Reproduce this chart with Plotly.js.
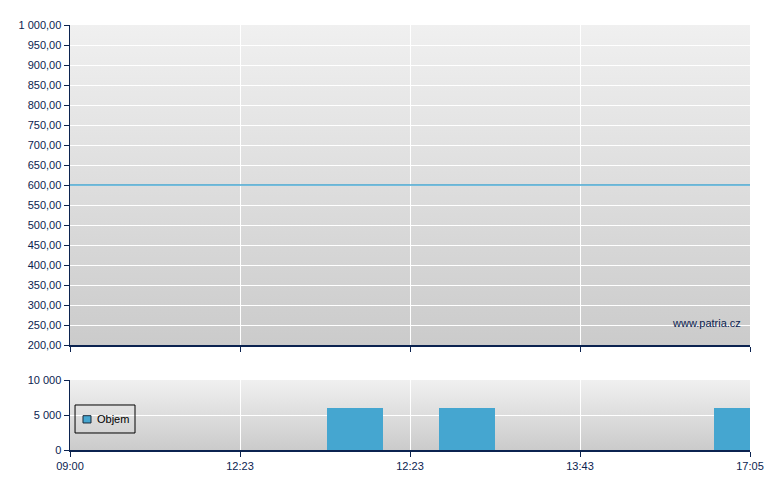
<!DOCTYPE html>
<html>
<head>
<meta charset="utf-8">
<script src="https://cdn.plot.ly/plotly-3.0.1.min.js"></script>
<style>html,body{margin:0;padding:0;background:#fff;}#chart{width:780px;height:490px;}</style>
</head>
<body>
<div id="chart"></div>
<script>
// Tick positions / labels (trade-index axis)
const tickPositions = [0, 1, 2, 3, 4];
const tickLabels = ["09:00", "12:23", "12:23", "13:43", "17:05"];
// Price series
const priceX = [0, 1, 2, 3, 4];
const priceY = [600, 600, 600, 600, 600];
// Volume series
const seriesName = "Objem";
const volumeX = [1.676, 2.335, 3.953];
const volumeY = [6000, 6000, 6000];
const barWidth = 0.329;

const navy = "#0b2350";
const blue = "#45a6d0";
const gradSvg = '<svg xmlns="http://www.w3.org/2000/svg" width="10" height="100" preserveAspectRatio="none"><defs><linearGradient id="g" x1="0" y1="0" x2="0" y2="1"><stop offset="0" stop-color="#f0f0f0"/><stop offset="1" stop-color="#cbcbcb"/></linearGradient></defs><rect width="10" height="100" fill="url(#g)"/></svg>';
const gradUri = "data:image/svg+xml;base64," + btoa(gradSvg);

const font = {family: "Liberation Sans, Arial, sans-serif", size: 11, color: navy};

const traces = [
  {x: priceX, y: priceY, type: "scatter", mode: "lines", xaxis: "x2", yaxis: "y",
   line: {color: blue, width: 1.3}, showlegend: false, hoverinfo: "skip"},
  {x: volumeX, y: volumeY, type: "bar", width: barWidth, xaxis: "x", yaxis: "y2",
   name: seriesName, marker: {color: blue, line: {width: 0}}, showlegend: false}
];

const xCommon = {
  range: [0, 4], tickmode: "array", tickvals: tickPositions, ticktext: tickLabels,
  showgrid: true, gridcolor: "#ffffff", gridwidth: 1, zeroline: false,
  showline: true, linecolor: navy, linewidth: 1.5, ticks: "outside", ticklen: 5,
  tickcolor: navy, tickwidth: 1, tickfont: font, fixedrange: true
};

const layout = {
  width: 780, height: 490,
  margin: {l: 70, r: 30, t: 25, b: 40},
  paper_bgcolor: "#ffffff", plot_bgcolor: "rgba(0,0,0,0)",
  separators: ", ",
  font: font,
  showlegend: false,
  bargap: 0,
  xaxis: Object.assign({}, xCommon, {anchor: "y2"}),
  xaxis2: Object.assign({}, xCommon, {anchor: "y", matches: "x", showticklabels: false}),
  yaxis: {domain: [0.247, 1], range: [200, 1000], dtick: 50, tick0: 0, tickformat: ",.2f",
    showgrid: true, gridcolor: "#ffffff", gridwidth: 1, zeroline: false,
    showline: true, linecolor: navy, linewidth: 1.5, ticks: "outside", ticklen: 5,
    tickcolor: navy, tickfont: font, fixedrange: true},
  yaxis2: {domain: [0, 0.1647], range: [0, 10000], tickvals: [0, 5000, 10000], tickformat: ",d",
    showgrid: true, gridcolor: "#ffffff", gridwidth: 1, zeroline: false,
    showline: true, linecolor: navy, linewidth: 1.5, ticks: "outside", ticklen: 5,
    tickcolor: navy, tickfont: font, fixedrange: true},
  images: [
    {source: gradUri, xref: "x domain", yref: "y domain", x: 0, y: 1, sizex: 1, sizey: 1,
     xanchor: "left", yanchor: "top", sizing: "stretch", layer: "below"},
    {source: gradUri, xref: "x domain", yref: "y2 domain", x: 0, y: 1, sizex: 1, sizey: 1,
     xanchor: "left", yanchor: "top", sizing: "stretch", layer: "below"}
  ],
  shapes: [
    // legend box
    {type: "rect", xref: "x domain", yref: "y2 domain", x0: 0.0074, x1: 0.0956, y0: 0.243, y1: 0.643,
     line: {color: "#000000", width: 1}, fillcolor: "rgba(0,0,0,0)", layer: "above"},
    // legend swatch
    {type: "rect", xref: "x domain", yref: "y2 domain", x0: 0.0191, x1: 0.0309, y0: 0.386, y1: 0.49,
     line: {color: "#1a2a3a", width: 1}, fillcolor: blue, layer: "above"}
  ],
  annotations: [
    {text: "www.patria.cz", xref: "x domain", yref: "y domain", x: 0.99, y: 0.07,
     xanchor: "right", yanchor: "middle", showarrow: false,
     font: {family: "Liberation Sans, Arial, sans-serif", size: 11, color: navy}},
    {text: seriesName, xref: "x domain", yref: "y2 domain", x: 0.0365, y: 0.44,
     xanchor: "left", yanchor: "middle", showarrow: false,
     font: {family: "Liberation Sans, Arial, sans-serif", size: 11, color: "#000000"}}
  ]
};

Plotly.newPlot("chart", traces, layout, {displayModeBar: false, staticPlot: true});
</script>
</body>
</html>
